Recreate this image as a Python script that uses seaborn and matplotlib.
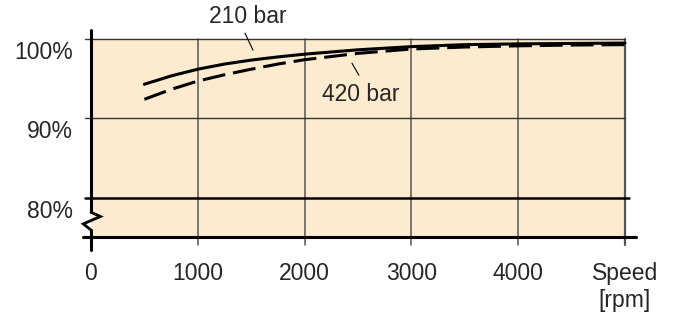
import matplotlib
matplotlib.use("Agg")
import matplotlib.pyplot as plt
import matplotlib.transforms as mtransforms
import pandas as pd
import seaborn as sns

# values
speed = [500, 750, 1000, 1250, 1500, 1750, 2000, 2500, 3000, 3500, 4000, 4500, 5000]
eff_210 = [94.3, 95.35, 96.2, 96.85, 97.35, 97.75, 98.1, 98.65, 99.05, 99.3, 99.4, 99.45, 99.5]
eff_420 = [92.4, 93.65, 94.7, 95.5, 96.2, 96.85, 97.4, 98.2, 98.75, 99.0, 99.15, 99.25, 99.3]
series = ["210 bar", "420 bar"]
x_ticks = [0, 1000, 2000, 3000, 4000, 5000]
x_labels = ["0", "1000", "2000", "3000", "4000", "Speed\n[rpm]"]
y_ticks = [100, 90, 80]
y_labels = ["100%", "90%", "80%"]

df = pd.concat([
    pd.DataFrame({"speed": speed, "eff": eff_210, "pressure": series[0]}),
    pd.DataFrame({"speed": speed, "eff": eff_420, "pressure": series[1]}),
])

sns.set_style("white")
plt.rcParams["font.family"] = ["Liberation Sans", "DejaVu Sans"]

fig = plt.figure(figsize=(6.74, 3.2), dpi=100)
ax = fig.add_axes([0.135, 0.259, 0.808, 0.646])
ax.set_xlim(0, 5100)
ax.set_ylim(75, 101.1)
for s in ax.spines.values():
    s.set_visible(False)

# peach plotting area
ax.fill_between([0, 5000], 75, 100, color="#fdebd0", lw=0, zorder=0)

# vertical grid lines (extend below as tick marks)
for x in x_ticks[1:]:
    ax.plot([x, x], [73.95, 100], color="#555555", lw=1.1 if x < 5000 else 1.6,
            clip_on=False, zorder=1)

# horizontal lines
ax.plot([-60, 5000], [100, 100], color="#333333", lw=1.0, clip_on=False, zorder=1)
ax.plot([-60, 5000], [90, 90], color="#333333", lw=1.0, clip_on=False, zorder=1)
ax.plot([-55, 5040], [80, 80], color="black", lw=1.8, clip_on=False, zorder=2)
ax.plot([-75, 5100], [75, 75], color="black", lw=2.2, clip_on=False, zorder=2)

# left axis with break symbol
ax.plot([0, 0], [101.14, 78.14], color="black", lw=2.2, clip_on=False, zorder=3)
ax.plot([0, 88, -72, 0], [78.14, 77.6, 76.67, 75.9], color="black", lw=2.0,
        clip_on=False, zorder=3, solid_joinstyle="miter")
ax.plot([0, 0], [75.9, 73.42], color="black", lw=2.2, clip_on=False, zorder=3)

sns.lineplot(data=df, x="speed", y="eff", style="pressure", ax=ax,
             color="black", linewidth=2.2, legend=False, zorder=4,
             dashes={"210 bar": "", "420 bar": (7.5, 2.6)})

# line labels with leaders
ax.text(1470, 102.8, series[0], fontsize=16.5, ha="center", va="center")
ax.plot([1442, 1517], [100.76, 98.6], color="black", lw=0.8, clip_on=False)
ax.text(2528, 93.0, series[1], fontsize=16.5, ha="center", va="center")
ax.plot([2444, 2509], [96.96, 95.44], color="black", lw=0.8)

ax.set_xticks(x_ticks)
ax.set_xticklabels(x_labels, fontsize=16.5, linespacing=1.2)
ax.set_yticks(y_ticks)
ax.set_yticklabels(y_labels, fontsize=16.5)
ax.tick_params(axis="both", length=0)
ax.tick_params(axis="x", pad=18)
ax.tick_params(axis="y", pad=13)
offset = mtransforms.ScaledTranslation(0, -0.11, fig.dpi_scale_trans)
for lab in ax.get_yticklabels():
    lab.set_transform(lab.get_transform() + offset)
for lab in ax.get_xticklabels():
    lab.set_verticalalignment("top")
ax.set_xlabel("")
ax.set_ylabel("")

fig.savefig("out.png", dpi=100)
